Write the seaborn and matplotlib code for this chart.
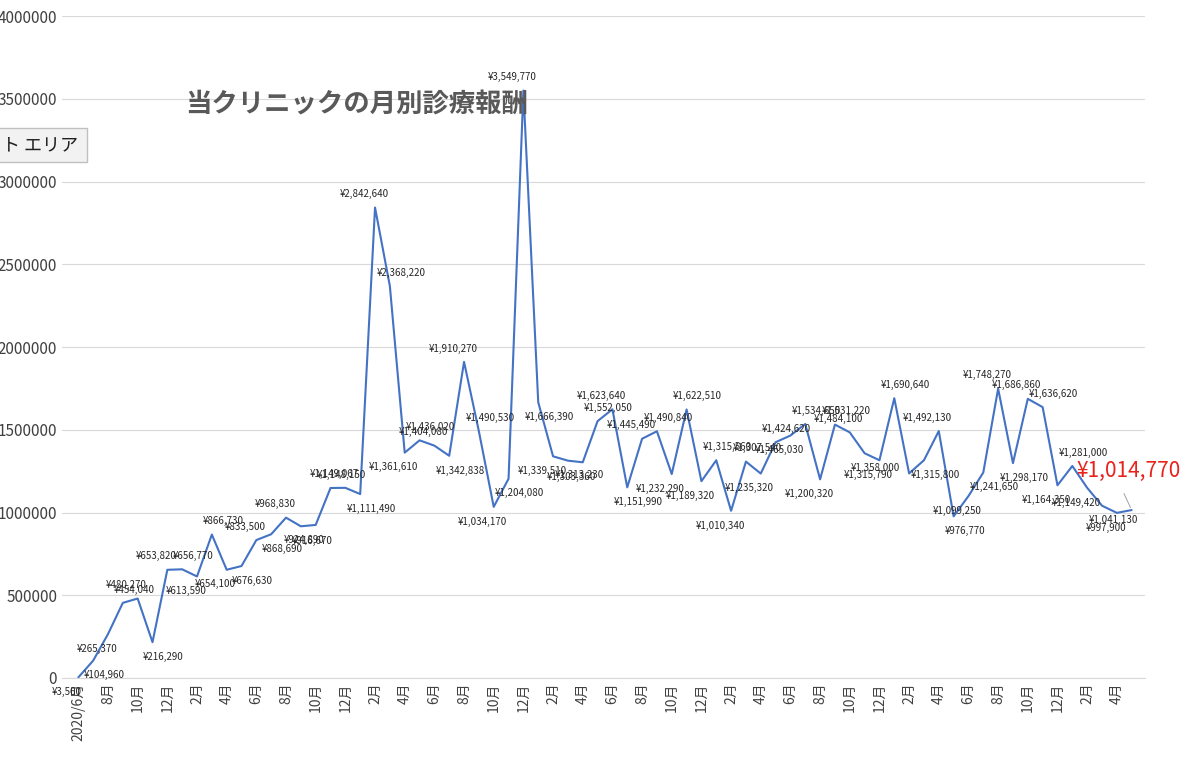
import matplotlib
matplotlib.use("Agg")
import matplotlib.pyplot as plt
import seaborn as sns
import pandas as pd

# monthly values, 2020/6 .. 2026/5
values = [3560, 104960, 265370, 454040, 480270, 216290, 653820, 656770, 613590, 866730,
          654100, 676630, 833500, 868690, 968830, 916670, 924890, 1148150, 1149067, 1111490,
          2842640, 2368220, 1361610, 1436020, 1404080, 1342838, 1910270, 1490530, 1034170, 1204080,
          3549770, 1666390, 1339510, 1313230, 1303360, 1552050, 1623640, 1151990, 1445490, 1490840,
          1232290, 1622510, 1189320, 1315560, 1010340, 1307540, 1235320, 1424620, 1465030, 1534650,
          1200320, 1531220, 1484100, 1358000, 1315790, 1690640, 1236000, 1315800, 1492130, 976770,
          1099250, 1241650, 1748270, 1298170, 1686860, 1636620, 1164350, 1281000, 1149420, 1041130,
          997900, 1014770]
unlabeled = [56]
months = [(6 + i - 1) % 12 + 1 for i in range(len(values))]
tick_labels = ["2020/6月" if i == 0 else f"{m}月" for i, m in enumerate(months)]

df = pd.DataFrame({"idx": range(len(values)), "value": values})

sns.set_style("white")
plt.rcParams["font.family"] = ["Noto Sans CJK JP", "DejaVu Sans"]

fig = plt.figure(figsize=(12, 7.71), dpi=100)
ax = fig.add_axes([62 / 1200, 1 - 678 / 771, (1145 - 62) / 1200, (678 - 16) / 771])
sns.lineplot(data=df, x="idx", y="value", ax=ax, color="#4472C4", linewidth=1.5)

ax.set_xlim(-1.1, 71.9)
ax.set_ylim(0, 4000000)
ax.set_yticks(range(0, 4000001, 500000))
ax.set_yticklabels([str(v) for v in range(0, 4000001, 500000)], fontsize=11, color="#404040")
ax.yaxis.grid(True, color="#d9d9d9", linewidth=0.8)
ax.set_xticks(range(0, len(values), 2))
ax.set_xticklabels(tick_labels[::2], rotation=90, fontsize=10, color="#404040")
ax.tick_params(axis="both", length=0)
ax.set_xlabel("")
ax.set_ylabel("")
for s in ["top", "right", "left"]:
    ax.spines[s].set_visible(False)
ax.spines["bottom"].set_color("#d9d9d9")

for i, v in enumerate(values[:-1]):
    if i in unlabeled:
        continue
    prev_v = values[i - 1] if i > 0 else v
    next_v = values[i + 1]
    up = v >= (prev_v + next_v) / 2
    dx = -8 if i % 2 == 0 else 8
    ax.annotate(f"¥{v:,}", (i, v), xytext=(dx, 6 if up else -7), textcoords="offset points",
                ha="center", va="bottom" if up else "top", fontsize=7, color="#262626")

ax.text(67.3, 1250000, f"¥{values[-1]:,}", color="#e8231c", fontsize=15, va="center")
ax.annotate("", (71, values[-1]), xytext=(70.4, 1130000),
            arrowprops=dict(arrowstyle="-", color="#a0a0a0", lw=0.7))

fig.text(185 / 1200, 1 - 105 / 771, "当クリニックの月別診療報酬", fontsize=19, fontweight="bold",
         color="#595959", va="center")
fig.text(0.002, 1 - 145 / 771, "ト エリア", fontsize=13, color="#202020", va="center",
         bbox=dict(boxstyle="square,pad=0.45", fc="#f2f2f2", ec="#c0c0c0"))

fig.savefig("out.png", dpi=100)
